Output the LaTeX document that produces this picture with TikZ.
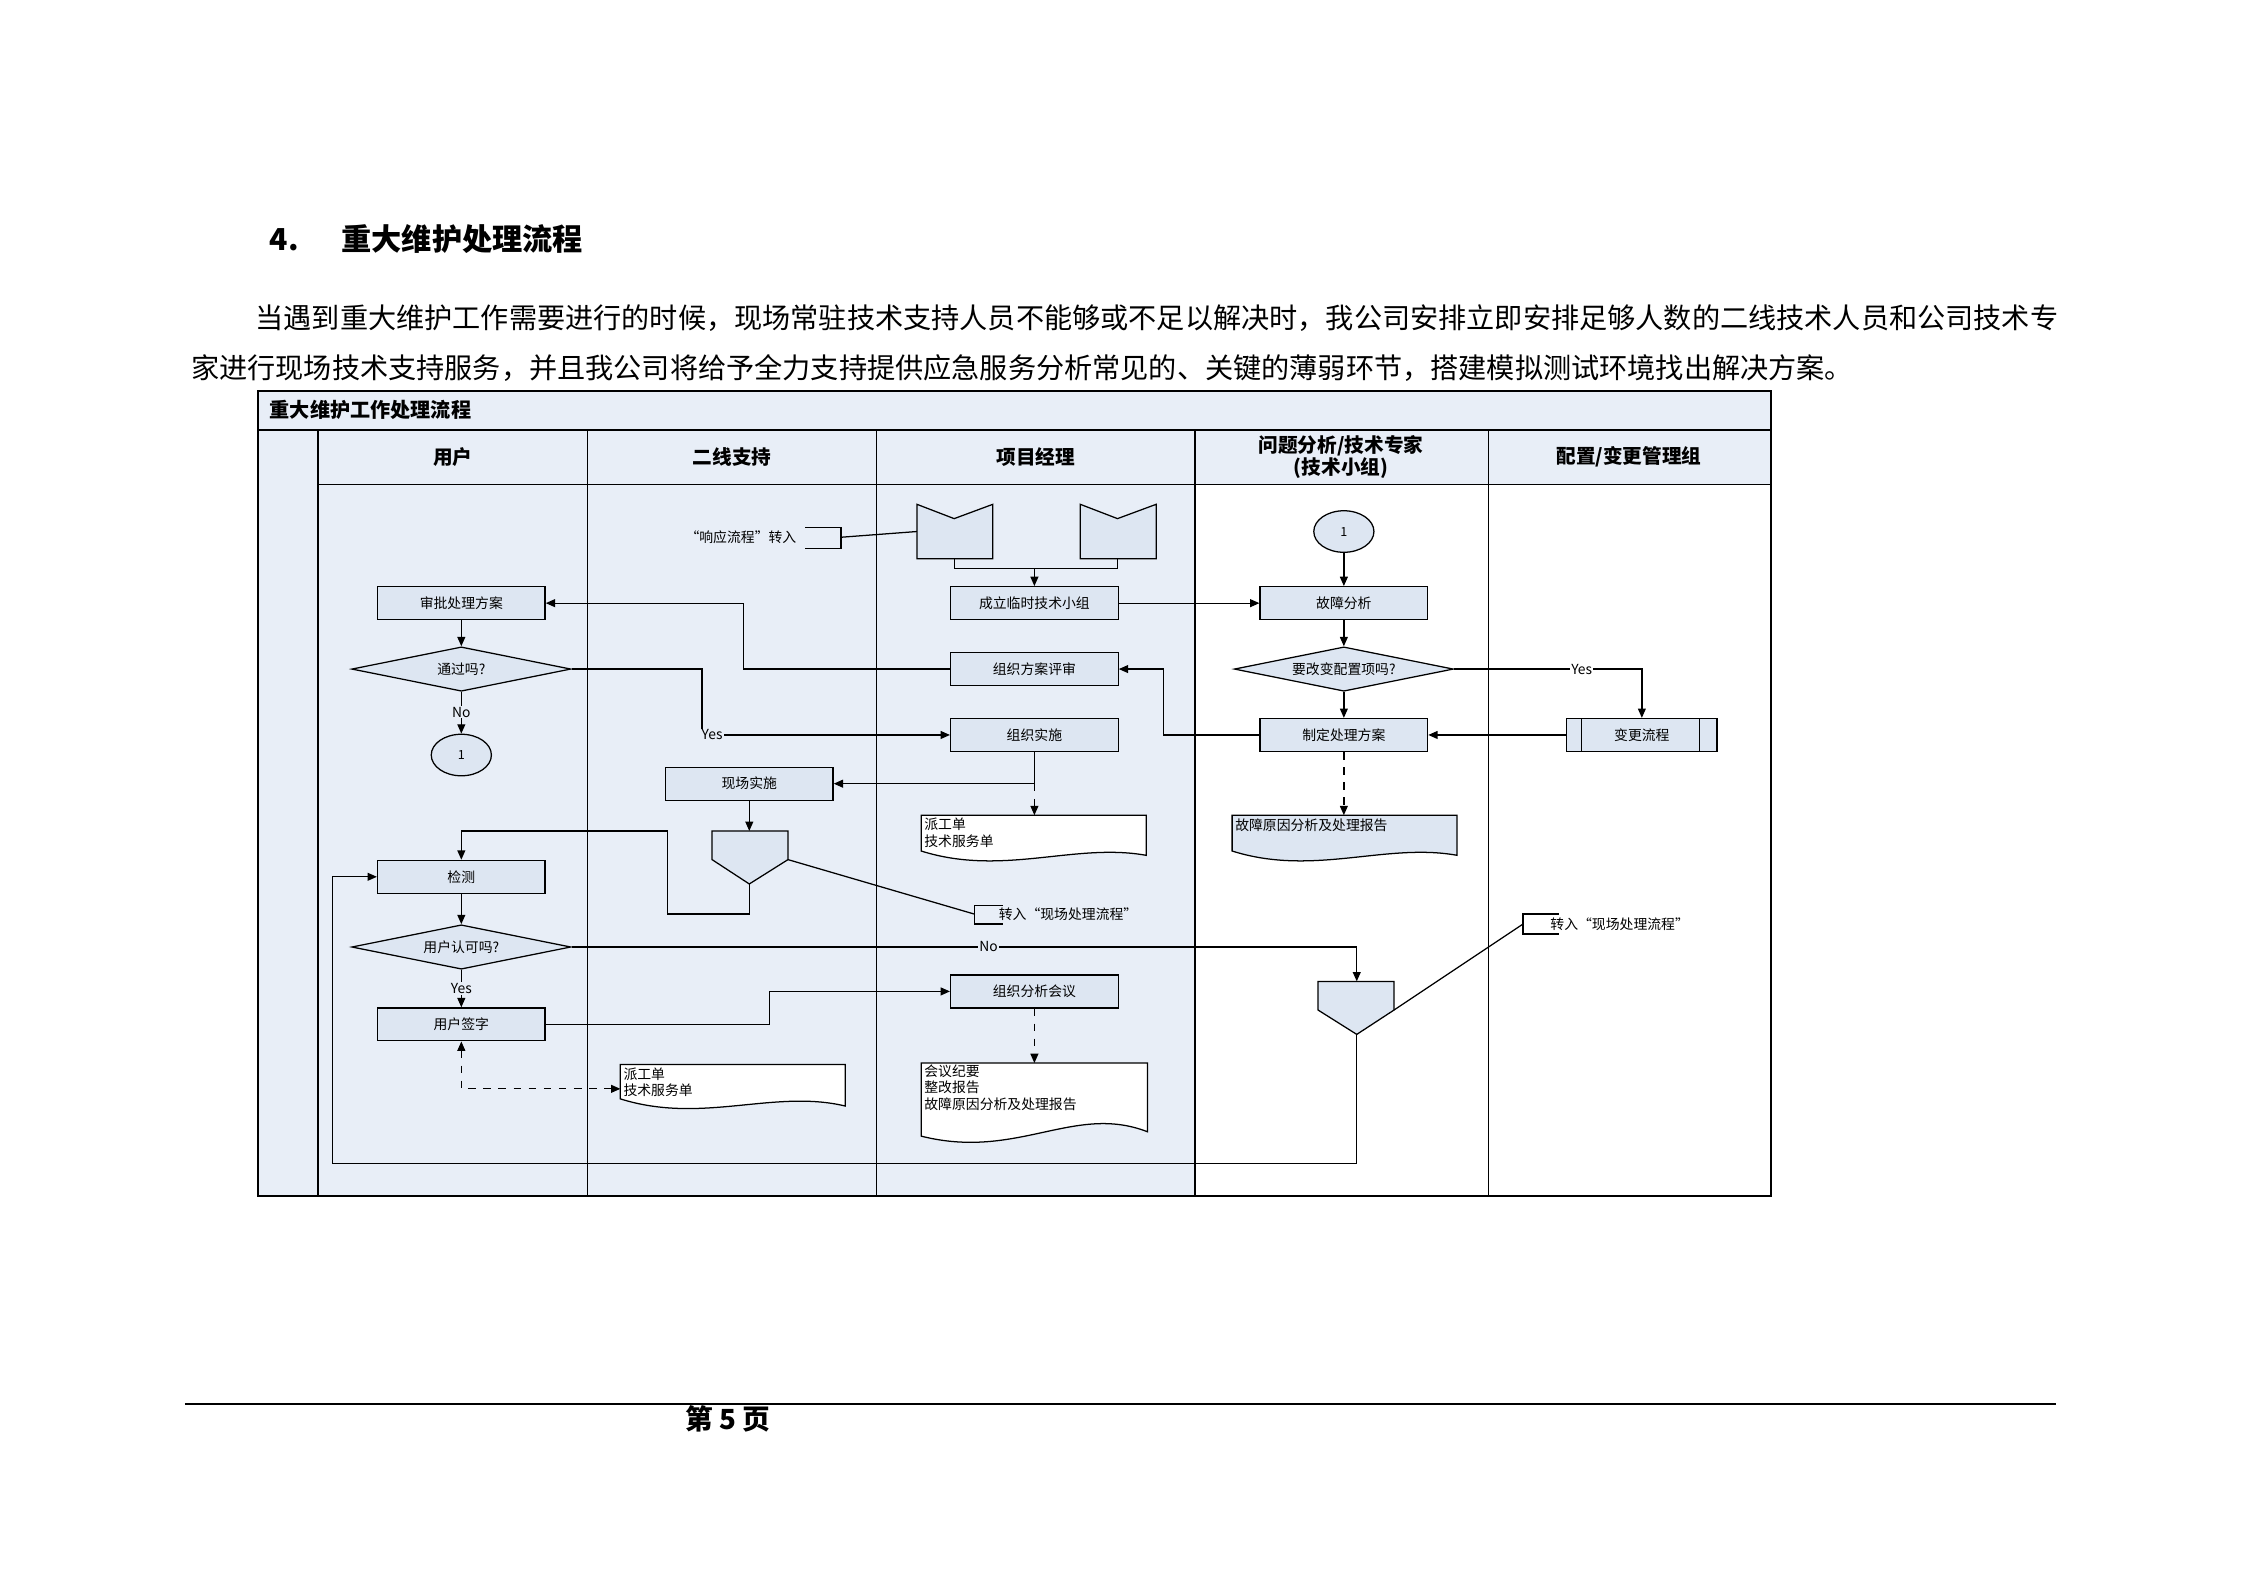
\documentclass[tikz,border=0pt]{standalone}
\usepackage{fontspec}
\setmainfont{Noto Sans CJK SC}
\usetikzlibrary{arrows.meta,shapes.geometric}
\definecolor{bgb}{HTML}{E8EEF7}
\definecolor{boxb}{HTML}{DDE6F2}
\tikzset{
 box/.style={draw,fill=boxb,minimum width=2.34cm,minimum height=0.46cm,inner sep=0,font=\fontsize{5.5}{6}\selectfont},
 dia/.style={draw,fill=boxb,diamond,aspect=5,minimum width=3.06cm,minimum height=0.62cm,inner sep=0,font=\fontsize{5.5}{6}\selectfont},
 circ/.style={draw,fill=boxb,ellipse,minimum width=0.84cm,minimum height=0.58cm,inner sep=0,font=\fontsize{5}{6}\selectfont},
 arr/.style={-{Triangle[length=1.3mm,width=1.1mm]}},
 lbl/.style={fill=bgb,inner sep=0.5pt,font=\fontsize{5.5}{6}\selectfont},
 small/.style={font=\fontsize{5.5}{6.5}\selectfont,align=left,inner sep=1pt},
 hdr/.style={font=\fontsize{7.8}{8.5}\selectfont\bfseries,align=center},
 every path/.style={line width=0.5pt}
}
\begin{document}
\begin{tikzpicture}[x=0.02cm,y=-0.02cm]
\useasboundingbox (0,0) rectangle (1567,1108);
% text above
\node[anchor=west,font=\fontsize{12}{13}\selectfont\bfseries] (hn) at (182,167) {4.};
\node[anchor=west,font=\fontsize{12}{13}\selectfont\bfseries] (ht) at (232,167) {重大维护处理流程};
\node[anchor=west,inner sep=0,font=\fontsize{11.19}{12}\selectfont] (p1) at (178,222) {当遇到重大维护工作需要进行的时候，现场常驻技术支持人员不能够或不足以解决时，我公司安排立即安排足够人数的二线技术人员和公司技术专};
\node[anchor=west,inner sep=0,font=\fontsize{11.19}{12}\selectfont] (p2) at (133,257) {家进行现场技术支持服务，并且我公司将给予全力支持提供应急服务分析常见的、关键的薄弱环节，搭建模拟测试环境找出解决方案。};
% footer
\draw[line width=0.7pt] (129,980) -- (1435,980);
\node[font=\fontsize{11}{12}\selectfont\bfseries] (pg) at (508,990) {第 5 页};
% frame
\fill[bgb] (180,273) rectangle (1236,338);
\fill[bgb] (180,338) rectangle (834,835);
\draw[line width=0.9pt] (180,273) rectangle (1236,835);
\draw[line width=0.9pt] (180,300) -- (1236,300);
\draw (222,338) -- (1236,338);
\foreach \xx in {222,410,612,834,1039} \draw (\xx,300) -- (\xx,835);
\node[anchor=west,font=\fontsize{8}{9}\selectfont\bfseries] (tt) at (182,286) {重大维护工作处理流程};
\node[hdr] (h1) at (316,319) {用户};
\node[hdr] (h2) at (511,319) {二线支持};
\node[hdr] (h3) at (723,319) {项目经理};
\node[hdr,font=\fontsize{7.8}{8.6}\selectfont\bfseries] (h4) at (936,319) {问题分析/技术专家\\(技术小组)};
\node[hdr] (h5) at (1137,319) {配置/变更管理组};
% top input
\node[small,anchor=east] (xyl) at (558,375) {“响应流程”转入};
\draw (562,368) -- (587,368) -- (587,383) -- (562,383);
\coordinate (brk1) at (587,375);
\draw[fill=boxb] (640,352) -- (666,362) -- (693,352) -- (693,390) -- (640,390) -- cycle;
\draw[fill=boxb] (754,352) -- (780,362) -- (807,352) -- (807,390) -- (754,390) -- cycle;
\coordinate (m1) at (640,371);
\draw (brk1) -- (m1);
\node[box] (cl) at (722,421) {成立临时技术小组};
\draw (666,390) -- (666,397) -- (780,397) -- (780,390);
\coordinate (mj) at (722,397);
\draw[arr] (mj) -- (cl.north);
% expert lane
\node[circ] (c1) at (938,371) {1};
\node[box] (gz) at (938,421) {故障分析};
\node[dia,minimum width=3.06cm] (yg) at (938,467) {要改变配置项吗?};
\node[box] (zd) at (938,513) {制定处理方案};
\node[box,minimum width=2.1cm] (bg) at (1146,513) {变更流程};
\draw (1104,502) -- (1104,524) (1186,502) -- (1186,524);
\draw[arr] (cl.east) -- (gz.west);
\draw[arr] (c1) -- (gz);
\draw[arr] (gz) -- (yg);
\draw[arr] (yg) -- (zd);
\draw[arr] (yg.east) -- (1146,467) -- (bg.north);
\node[lbl,fill=white] (ly) at (1104,467) {Yes};
\draw[arr] (bg.west) -- (zd.east);
% PM lane
\node[box] (ps) at (722,467) {组织方案评审};
\node[box] (ss) at (722,513) {组织实施};
\draw[arr] (zd.west) -- (812,513) -- (812,467) -- (ps.east);
\node[box] (sp) at (322,421) {审批处理方案};
\draw[arr] (ps.west) -- (519,467) -- (519,421) -- (sp.east);
\node[dia] (tg) at (322,467) {通过吗?};
\draw[arr] (sp) -- (tg);
\node[circ] (c2) at (322,527) {1};
\draw[arr] (tg) -- (c2);
\node[lbl] (lno) at (322,497) {No};
\draw[arr] (tg.east) -- (490,467) -- (490,513) -- (ss.west);
\node[lbl] (lyes) at (497,513) {Yes};
\node[box] (xc) at (523,547) {现场实施};
\coordinate (sj) at (722,547);
\draw (ss.south) -- (sj);
\draw[arr] (sj) -- (xc.east);
% doc 1
\draw[fill=white] (643,569) -- (800,569) -- (800,597) .. controls (750,588) and (700,612) .. (643,594) -- cycle;
\node[small,anchor=north west] (d1) at (643,569) {派工单\\技术服务单};
\draw[arr,dashed] (sj) -- (722,569);
% doc 2
\draw[fill=boxb] (860,569) -- (1017,569) -- (1017,597) .. controls (967,588) and (917,612) .. (860,594) -- cycle;
\node[small,anchor=north west] (d2) at (860,569) {故障原因分析及处理报告};
\draw[arr,dashed] (zd.south) -- (938,569);
% offpage 1
\draw[fill=boxb] (497,580) -- (550,580) -- (550,600) -- (523,617) -- (497,600) -- cycle;
\coordinate (op1) at (523,617);
\draw[arr] (xc.south) -- (523,580);
\node[box] (jc) at (322,612) {检测};
\draw[arr] (op1) -- (523,638) -- (466,638) -- (466,580) -- (322,580) -- (jc.north);
\draw (550,600) -- (680,638);
\draw (700,632) -- (680,632) -- (680,645) -- (700,645);
\node[small,anchor=west] (zr1) at (695,638) {转入“现场处理流程”};
% user accept
\node[dia] (rk) at (322,661) {用户认可吗?};
\draw[arr] (jc) -- (rk);
\draw[fill=boxb] (920,685) -- (973,685) -- (973,705) -- (947,722) -- (920,705) -- cycle;
\draw[arr] (rk.east) -- (947,661) -- (947,685);
\node[lbl] (lno2) at (690,661) {No};
\draw (973,705) -- (1063,645);
\draw (1088,638) -- (1063,638) -- (1063,652) -- (1088,652);
\node[small,anchor=west] (zr2) at (1080,645) {转入“现场处理流程”};
\draw[arr] (947,722) -- (947,812) -- (232,812) -- (232,612) -- (jc.west);
\node[box] (qz) at (322,715) {用户签字};
\draw[arr] (rk) -- (qz);
\node[lbl] (lyes2) at (322,690) {Yes};
\node[box] (hy) at (722,692) {组织分析会议};
\draw[arr] (qz.east) -- (537,715) -- (537,692) -- (hy.west);
% doc 3
\draw[fill=white] (643,742) -- (801,742) -- (801,790) .. controls (750,770) and (710,810) .. (643,793) -- cycle;
\node[small,anchor=north west] (d3) at (643,741) {会议纪要\\整改报告\\故障原因分析及处理报告};
\draw[arr,dashed] (hy.south) -- (722,742);
% doc 4
\draw[fill=white] (433,743) -- (590,743) -- (590,772) .. controls (540,760) and (490,785) .. (433,767) -- cycle;
\node[small,anchor=north west] (d4) at (433,743) {派工单\\技术服务单};
\draw[arr,dashed,{Triangle[length=1.3mm,width=1.1mm]}-{Triangle[length=1.3mm,width=1.1mm]}] (qz.south) -- (322,760) -- (433,760);
\end{tikzpicture}
\end{document}
